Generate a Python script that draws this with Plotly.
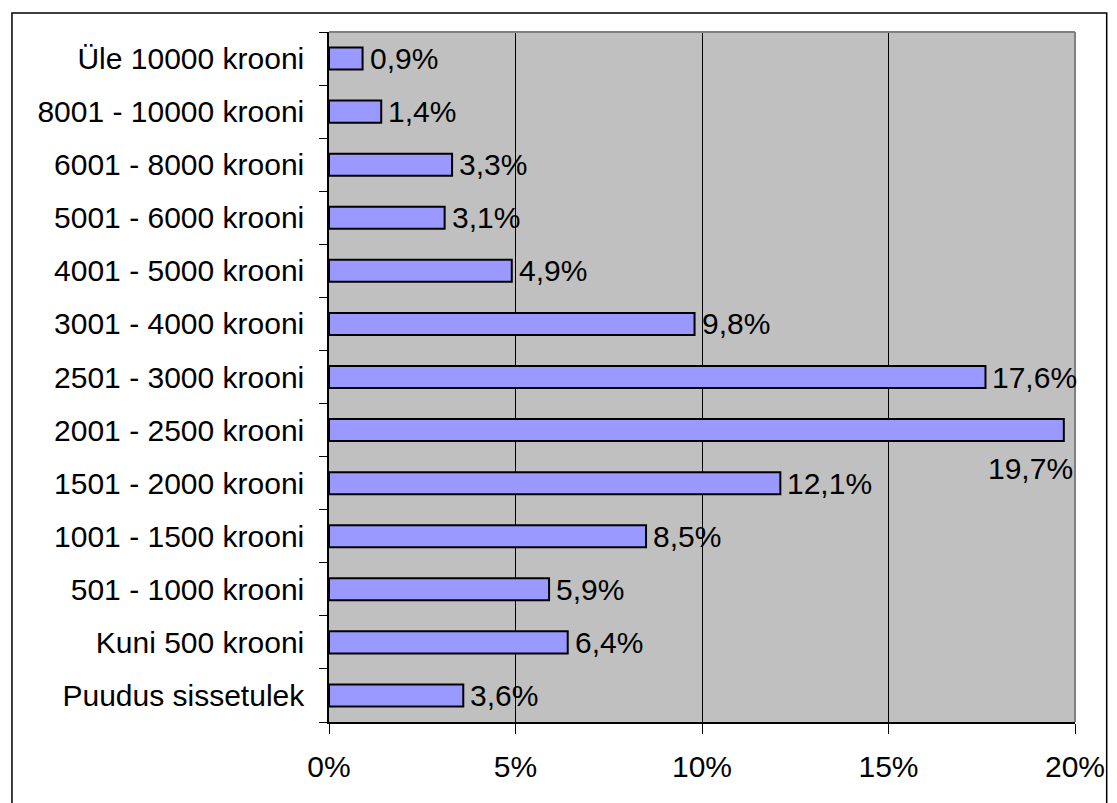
import plotly.graph_objects as go

categories = [
    "Puudus sissetulek",
    "Kuni 500 krooni",
    "501 - 1000 krooni",
    "1001 - 1500 krooni",
    "1501 - 2000 krooni",
    "2001 - 2500 krooni",
    "2501 - 3000 krooni",
    "3001 - 4000 krooni",
    "4001 - 5000 krooni",
    "5001 - 6000 krooni",
    "6001 - 8000 krooni",
    "8001 - 10000 krooni",
    "Üle 10000 krooni",
]
values = [3.6, 6.4, 5.9, 8.5, 12.1, 19.7, 17.6, 9.8, 4.9, 3.1, 3.3, 1.4, 0.9]
x_ticks = [0, 5, 10, 15, 20]
x_tick_labels = ["0%", "5%", "10%", "15%", "20%"]

FONT = "Liberation Sans, Arial, sans-serif"
FS = 30

fig = go.Figure()
fig.add_trace(go.Bar(
    x=values, y=categories, orientation="h",
    marker=dict(color="#9999FF", line=dict(color="#000000", width=2)),
    hoverinfo="skip",
))

annotations = []
for c, v in zip(categories, values):
    txt = f"{v:.1f}%".replace(".", ",")
    if v > 18.5:
        annotations.append(dict(x=v, y=c, xref="x", yref="y", text=txt, showarrow=False,
                                xanchor="right", yanchor="middle", xshift=11, yshift=-38,
                                font=dict(family=FONT, size=FS, color="#000")))
    else:
        annotations.append(dict(x=v, y=c, xref="x", yref="y", text=txt, showarrow=False,
                                xanchor="left", yanchor="middle", xshift=5, yshift=0,
                                font=dict(family=FONT, size=FS, color="#000")))

W, H = 1117, 803
L, R, T, B = 329, 35, 32, 81
pw, ph = W - L - R, H - T - B

fig.update_layout(
    width=W, height=H,
    margin=dict(l=L, r=R, t=T, b=B, pad=0),
    paper_bgcolor="#FFFFFF",
    plot_bgcolor="#C0C0C0",
    bargap=0.585,
    showlegend=False,
    font=dict(family=FONT, size=FS, color="#000"),
    annotations=annotations,
    xaxis=dict(
        range=[0, 20], tickvals=x_ticks, ticktext=x_tick_labels,
        showgrid=True, gridcolor="#000000", gridwidth=1,
        ticks="outside", ticklen=10, tickcolor="#000", tickwidth=1,
        showline=True, linecolor="#000000", linewidth=1.5,
        zeroline=False, fixedrange=True, ticklabelstandoff=7,
        tickfont=dict(family=FONT, size=FS, color="#000"),
    ),
    yaxis=dict(
        type="category", categoryorder="array", categoryarray=categories,
        tickson="boundaries", ticks="outside", ticklen=8, tickcolor="#000", tickwidth=1,
        showline=True, linecolor="#000000", linewidth=1.5,
        showgrid=False, zeroline=False, fixedrange=True, ticklabelstandoff=17,
        tickfont=dict(family=FONT, size=FS, color="#000"),
    ),
    shapes=[
        dict(type="line", xref="paper", yref="paper", x0=0, x1=1, y0=1, y1=1,
             line=dict(color="#808080", width=2), layer="above"),
        dict(type="line", xref="paper", yref="paper", x0=1, x1=1, y0=0, y1=1,
             line=dict(color="#808080", width=2), layer="above"),
        dict(type="rect", xref="paper", yref="paper",
             x0=(9 - L) / pw, x1=(1114 - L) / pw,
             y0=-(B + 20) / ph, y1=((H - B) - 13) / ph,
             line=dict(color="#000000", width=1.5), fillcolor="rgba(0,0,0,0)"),
    ],
)

fig.write_html(
    "out.html",
    config={"displayModeBar": False},
    post_script="document.body.style.margin='0';document.body.style.overflow='hidden';",
)
